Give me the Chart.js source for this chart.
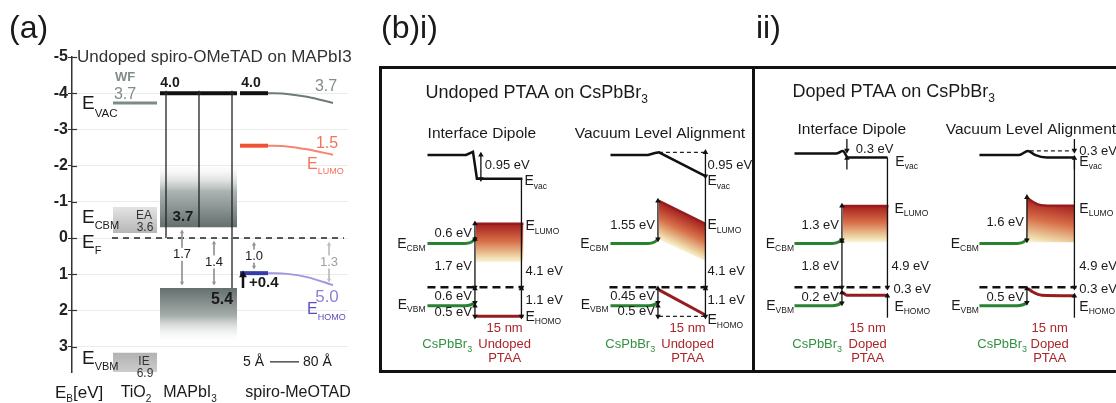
<!DOCTYPE html>
<html>
<head>
<meta charset="utf-8">
<title>Energy level diagrams</title>
<script src="https://cdn.jsdelivr.net/npm/chart.js@4.4.1/dist/chart.umd.min.js"></script>
<style>
  body { margin: 0; background: #fff; width: 1116px; height: 403px; position: relative; overflow: hidden;
         font-family: "Liberation Sans", Arial, sans-serif; }
  #chartA { position: absolute; left: 0; top: 0; }
  #chartB { position: absolute; left: 375px; top: 0; }
  .plab { position: absolute; top: 11px; font-size: 32px; line-height: 1; color: #1a1a1a; }
</style>
</head>
<body>
<canvas id="chartA" width="375" height="403"></canvas>
<canvas id="chartB" width="741" height="403"></canvas>
<div class="plab" style="left:9px">(a)</div>
<div class="plab" style="left:381px">(b)i)</div>
<div class="plab" style="left:756px">ii)</div>
<script>
const FONT = '"Liberation Sans", Arial, sans-serif';

// ---------- (a) x = schematic position, y = E - E_F (eV) ----------
const aTickVals = [-5, -4.5, -4, -3.5, -3, -2.5, -2, -1.5, -1, -0.5, 0, 0.5, 1, 1.5, 2, 2.5, 3, 3.5];
const tio2Wf = [[4.1, -3.73], [8.5, -3.73]];
const tio2EaBox = [4.1, 8.5, -0.86, -0.14];
const tio2IeBox = [4.1, 8.5, 3.17, 3.92];
const mapiVac = [[8.8, -4.0], [16.5, -4.0]];
const mapiCbBox = [8.8, 16.5, -2.1, -0.3];
const mapiVbBox = [8.8, 16.5, 1.38, 2.9];
const mapiDrops = [[9.4, -4.0, 0], [12.7, -4.0, -0.3], [16.0, -4.0, 1.38]];
const spiroVac = [[16.8, -4.0], [19.6, -4.0]];
const spiroVacBend = [[19.6, -4.0], [21.5, -3.98], [23.5, -3.9], [26.1, -3.73]];
const spiroLumo = [[16.8, -2.55], [19.6, -2.55]];
const spiroLumoBend = [[19.6, -2.55], [21.5, -2.53], [23.5, -2.45], [26.1, -2.3]];
const spiroHomo = [[16.8, 0.97], [19.6, 0.97]];
const spiroHomoBend = [[19.6, 0.97], [21.5, 0.99], [23.5, 1.08], [26.1, 1.3]];
const fermiA = [[4.0, 0], [27.2, 0]];
const gapBars = [[11.0, -0.17, 1.24], [14.2, 0.14, 1.24], [18.2, 0.17, 0.8], [25.7, 0.17, 1.16]];
const gapText = ['1.7', '1.4', '1.0', '1.3'];
const gapTextY = [0.45, 0.66, 0.5, 0.66];
const shiftArrow = [17.1, 1.38, 1.02];
const lengthBar = [[19.8, 3.42], [22.7, 3.42]];

// ---------- (b) local x (interface = 0), y = E - E_F (eV) ----------
const bOffsets = [9.7, 28.2, 46.8, 65.5];
const perovCbm = [[-4.8, -1.65], [-1.0, -1.65], [-0.4, -1.7], [0, -1.82]];
const perovVbm = [[-4.8, 0.7], [-1.0, 0.7], [-0.4, 0.66], [0, 0.58]];
const fermiSpan = [[-4.8, 4.9], [-4.9, 5.0], [-4.8, 4.7], [-4.8, 5.0]];
// i) undoped PTAA
const uVacDipole = [[-4.8, -5.0], [-0.9, -5.0], [-0.2, -5.12], [0.2, -4.1], [4.8, -4.1]];
const uVacAlign = [[-4.8, -5.0], [-1.0, -5.0], [-0.3, -5.07], [0.1, -5.1], [4.8, -4.2]];
const uLumoDipole = [[0.1, -2.4], [4.9, -2.4]];
const uLumoDipoleBase = [[0.1, -0.95], [4.9, -0.95]];
const uLumoAlign = [[0.1, -3.26], [4.8, -2.4]];
const uLumoAlignBase = [[0.1, -1.8], [4.8, -1.0]];
const uHomoDipole = [[0.1, 1.1], [4.9, 1.1]];
const uHomoAlign = [[0.1, 0.1], [4.8, 1.05]];
const uAlignDashes = [[[0.1, -5.1], [4.8, -5.1]], [[0.1, 1.1], [4.8, 1.1]]];
// ii) doped PTAA
const dVacDipole = [[-4.8, -5.05], [-0.6, -5.05], [0.1, -5.15], [0.6, -4.9], [4.6, -4.9]];
const dVacAlign = [[-4.8, -5.0], [-0.8, -5.0], [0.1, -5.15], [0.8, -5.0], [2.0, -4.9], [4.8, -4.9]];
const dLumoDipole = [[0.1, -3.07], [4.7, -3.07]];
const dLumoDipoleBase = [[0.1, -1.7], [4.7, -1.7]];
const dLumoAlign = [[0, -3.4], [0.4, -3.28], [1.2, -3.12], [2.5, -3.08], [4.8, -3.08]];
const dLumoAlignBase = [[0, -1.7], [4.8, -1.7]];
const dHomoDipole = [[0.1, 0.2], [0.5, 0.3], [4.6, 0.3]];
const dHomoAlign = [[0.1, 0.05], [0.6, 0.18], [1.5, 0.3], [4.8, 0.32]];
const dAlignDashes = [[[0.3, -5.15], [4.6, -5.15]]];
// arrows: [x, from, to, heads]
const uArrowsDipole = [[0.6, -5.0, -4.1, 'both'], [0, -2.4, -1.82, 'both'], [0, -1.82, 0, 'both'],
  [0, 0.05, 0.58, 'both'], [0, 0.7, 1.1, 'both'], [4.7, -4.1, 0, 'end'], [4.7, 0.05, 1.1, 'both']];
const uArrowsAlign = [[4.8, -5.1, -4.2, 'both'], [4.8, -4.2, 0, 'end'], [4.8, 0.05, 1.1, 'both'],
  [0, -3.26, -1.82, 'both'], [0, 0.05, 0.58, 'both'], [0, 0.7, 1.1, 'both']];
const dArrowsDipole = [[0.5, -5.6, -5.17, 'end'], [0.5, -4.45, -4.88, 'end'], [4.6, -4.9, 0, 'end'],
  [0, -3.07, -1.78, 'both'], [0, -1.74, 0, 'both'], [0, 0.2, 0.6, 'both'], [4.6, 1.15, 0.33, 'end']];
const dArrowsAlign = [[4.8, -5.6, -5.17, 'end'], [4.8, -4.45, -4.88, 'end'], [4.8, -4.9, 0, 'end'],
  [0, -3.4, -1.78, 'both'], [0, 0.05, 0.58, 'both'], [4.8, 1.15, 0.33, 'end']];

const GREEN = 'rgb(40,130,50)';
const RED = 'rgb(150,28,32)';
const RED_TXT = 'rgb(170,38,42)';
const GREEN_TXT = 'rgb(50,145,65)';
const LUMO_STOPS = [[0, 'rgb(165,32,30)'], [0.45, 'rgb(215,110,72)'], [0.85, 'rgb(238,214,165)'], [1, 'rgba(248,238,200,0.7)']];

// helpers
const sh = (pts, dx) => pts.map(([x, y]) => ({ x: x + (dx || 0), y }));

function seg(data, color, width, extra) {
  return Object.assign({ data, borderColor: color, borderWidth: width, pointRadius: 0,
    fill: false, tension: 0, clip: false, order: 1 }, extra || {});
}

function arrowSet(x, y0, y1, heads, color, width, r) {
  const down = y0 < y1;
  return seg([{ x, y: y0 }, { x, y: y1 }], color, width, {
    pointStyle: 'triangle',
    pointRadius: [heads === 'end' ? 0 : r, heads === 'start' ? 0 : r],
    pointRotation: [down ? 0 : 180, down ? 180 : 0],
    pointBackgroundColor: color, pointBorderColor: color, pointBorderWidth: 0,
    order: 0
  });
}

function vGrad(chart, y0, y1, stops) {
  const { ctx, chartArea, scales } = chart;
  if (!chartArea) return 'rgba(0,0,0,0)';
  const g = ctx.createLinearGradient(0, scales.y.getPixelForValue(y0), 0, scales.y.getPixelForValue(y1));
  stops.forEach(([o, c]) => g.addColorStop(o, c));
  return g;
}

// gradient perpendicular to the top edge of a band
function bandGrad(chart, top, bottom, stops) {
  const { ctx, chartArea, scales } = chart;
  if (!chartArea) return 'rgba(0,0,0,0)';
  const px = p => [scales.x.getPixelForValue(p.x), scales.y.getPixelForValue(p.y)];
  const [ax, ay] = px(top[0]), [bx, by] = px(top[top.length - 1]), [cx, cy] = px(bottom[0]);
  let dx = bx - ax, dy = by - ay;
  const len = Math.hypot(dx, dy);
  dx /= len; dy /= len;
  const nx = -dy, ny = dx;
  const d = (cx - ax) * nx + (cy - ay) * ny;
  const g = ctx.createLinearGradient(ax, ay, ax + nx * d, ay + ny * d);
  stops.forEach(([o, c]) => g.addColorStop(o, c));
  return g;
}

function box(b, stops) {
  const [x0, x1, top, bottom] = b;
  return seg([{ x: x0, y: top }, { x: x1, y: top }], 'rgba(0,0,0,0)', 0, {
    fill: { value: bottom }, order: 5,
    backgroundColor: c => vGrad(c.chart, top, bottom, stops)
  });
}

function drawLabel(ctx, px, py, it) {
  const size = it.size || 13;
  const weight = it.bold ? 'bold ' : '';
  const main = weight + size + 'px ' + FONT;
  const subFont = weight + (it.subSize || Math.round(size * 0.62)) + 'px ' + FONT;
  ctx.font = main;
  const w1 = ctx.measureText(it.t).width;
  let w2 = 0, w3 = 0;
  if (it.sub) { ctx.font = subFont; w2 = ctx.measureText(it.sub).width; }
  if (it.post) { ctx.font = main; w3 = ctx.measureText(it.post).width; }
  const total = w1 + w2 + w3;
  let x0 = px;
  if (it.align === 'center') x0 = px - total / 2;
  else if (it.align === 'right') x0 = px - total;
  if (it.bg) {
    ctx.fillStyle = '#fff';
    ctx.fillRect(x0 - 1, py - size * 0.5, total + 2, size);
  }
  ctx.fillStyle = it.color || '#1a1a1a';
  ctx.textBaseline = 'middle';
  ctx.textAlign = 'left';
  ctx.font = main;
  ctx.fillText(it.t, x0, py);
  if (it.sub) { ctx.font = subFont; ctx.fillText(it.sub, x0 + w1, py + (it.subDy || size * 0.35)); }
  if (it.post) { ctx.font = main; ctx.fillText(it.post, x0 + w1 + w2, py); }
}

function makeTextPlugin(id, items) {
  return {
    id,
    afterDatasetsDraw(chart) {
      const { ctx, scales: { x, y } } = chart;
      ctx.save();
      items.forEach(it => drawLabel(ctx, x.getPixelForValue(it.x), y.getPixelForValue(it.y), it));
      ctx.restore();
    }
  };
}

// ---------- panel (a) ----------
const aSets = [];
aSets.push(box(tio2EaBox, [[0, 'rgb(228,228,228)'], [1, 'rgb(182,182,182)']]));
aSets.push(box(tio2IeBox, [[0, 'rgb(178,178,178)'], [1, 'rgb(215,215,215)']]));
aSets.push(box(mapiCbBox, [[0, 'rgba(255,255,255,0)'], [0.45, 'rgb(172,180,178)'], [1, 'rgb(100,112,110)']]));
aSets.push(box(mapiVbBox, [[0, 'rgb(100,112,110)'], [0.5, 'rgb(165,172,170)'], [1, 'rgba(255,255,255,0)']]));
aSets.push(seg(sh(tio2Wf), 'rgb(125,138,138)', 3));
aSets.push(seg(sh(mapiVac), '#111', 4));
mapiDrops.forEach(([x, y0, y1]) => aSets.push(arrowSet(x, y0, y1, 'start', '#222', 1.3, 3)));
aSets.push(seg(sh(spiroVac), '#111', 4));
aSets.push(seg(sh(spiroVacBend), 'rgb(110,122,122)', 2, { cubicInterpolationMode: 'monotone' }));
aSets.push(seg(sh(spiroLumo), 'rgb(238,82,52)', 4));
aSets.push(seg(sh(spiroLumoBend), 'rgb(245,132,112)', 2, { cubicInterpolationMode: 'monotone' }));
aSets.push(seg(sh(spiroHomo), 'rgb(52,60,170)', 4));
aSets.push(seg(sh(spiroHomoBend), 'rgb(160,150,225)', 2, { cubicInterpolationMode: 'monotone' }));
aSets.push(seg(sh(fermiA), '#222', 1.5, { borderDash: [6, 5] }));
gapBars.forEach(([x, y0, y1], i) =>
  aSets.push(arrowSet(x, y0, y1, 'both', i === 3 ? 'rgb(190,190,190)' : 'rgb(150,150,150)', 1, 2.5)));
aSets.push(arrowSet(shiftArrow[0], shiftArrow[1], shiftArrow[2], 'end', '#111', 2.5, 4.5));
aSets.push(seg(sh(lengthBar), '#222', 1.2));

const GRAY_TXT = 'rgb(128,140,140)';
const E_A = (sub, x, y, color, size) => ({ t: 'E', sub, x, y, size: size || 19, subSize: size ? 9 : 11, subDy: size ? 7 : 8, color });
const aLabels = [
  { t: 'Undoped spiro-OMeTAD on MAPbI3', x: 0.5, y: -5.0, size: 17, color: '#333' },
  { t: 'WF', x: 5.3, y: -4.44, size: 13, bold: true, align: 'center', color: GRAY_TXT },
  { t: '3.7', x: 5.3, y: -3.97, size: 16, align: 'center', color: GRAY_TXT },
  { t: 'E', sub: 'VAC', x: 1.0, y: -3.72, size: 19, subSize: 11.5, subDy: 10 },
  { t: '4.0', x: 9.8, y: -4.28, size: 14, bold: true, align: 'center' },
  { t: '4.0', x: 17.9, y: -4.28, size: 14, bold: true, align: 'center' },
  { t: '3.7', x: 25.4, y: -4.17, size: 16, align: 'center', color: GRAY_TXT },
  { t: '1.5', x: 25.5, y: -2.62, size: 16, align: 'center', color: 'rgb(245,115,90)' },
  E_A('LUMO', 23.5, -2.04, 'rgb(245,115,90)', 16),
  E_A('CBM', 1.0, -0.55),
  { t: 'EA', x: 7.2, y: -0.63, size: 12, align: 'center', color: '#333' },
  { t: '3.6', x: 7.3, y: -0.28, size: 12, align: 'center', color: '#333' },
  { t: '3.7', x: 11.1, y: -0.58, size: 15, bold: true, align: 'center' },
  E_A('F', 1.0, 0.14),
  { t: '+0.4', x: 17.7, y: 1.24, size: 15, bold: true },
  { t: '5.4', x: 15.0, y: 1.71, size: 16, bold: true, align: 'center' },
  { t: '5.0', x: 25.5, y: 1.63, size: 17, align: 'center', color: 'rgb(140,130,212)' },
  E_A('HOMO', 23.5, 1.99, 'rgb(90,80,190)', 16),
  E_A('VBM', 1.0, 3.34),
  { t: 'IE', x: 7.2, y: 3.42, size: 12, align: 'center', color: '#333' },
  { t: '6.9', x: 7.3, y: 3.75, size: 12, align: 'center', color: '#333' },
  { t: '5 Å', x: 17.1, y: 3.42, size: 14 },
  { t: '80 Å', x: 23.1, y: 3.42, size: 14 },
  { t: 'E', sub: 'B', post: '[eV]', x: -1.7, y: 4.28, size: 17, subSize: 10, subDy: 6 },
  { t: 'TiO', sub: '2', x: 6.4, y: 4.28, size: 16, subSize: 10, subDy: 6, align: 'center' },
  { t: 'MAPbI', sub: '3', x: 11.8, y: 4.28, size: 16, subSize: 10, subDy: 6, align: 'center' },
  { t: 'spiro-MeOTAD', x: 22.6, y: 4.28, size: 16, align: 'center' }
];
gapText.forEach((t, i) => aLabels.push({ t, x: gapBars[i][0], y: gapTextY[i], size: 13, align: 'center', bg: true,
  color: i === 3 ? 'rgb(160,160,160)' : '#222' }));

// small tick marks on the inner side of the energy axis
const innerTicks = {
  id: 'innerTicks',
  afterDraw(chart) {
    const { ctx, chartArea, scales: { y } } = chart;
    ctx.save();
    ctx.strokeStyle = '#333';
    ctx.lineWidth = 1.2;
    y.ticks.forEach(t => {
      const py = Math.round(y.getPixelForValue(t.value)) + 0.5;
      ctx.beginPath();
      ctx.moveTo(chartArea.left, py);
      ctx.lineTo(chartArea.left + 5, py);
      ctx.stroke();
    });
    ctx.restore();
  }
};

new Chart(document.getElementById('chartA'), {
  type: 'line',
  data: { datasets: aSets },
  options: {
    responsive: false, animation: false, events: [],
    layout: { padding: { top: 57, bottom: 31, left: 0, right: 27 } },
    plugins: { legend: { display: false }, tooltip: { enabled: false } },
    scales: {
      x: { type: 'linear', display: false, min: 0, max: 27.6 },
      y: {
        type: 'linear', reverse: true, min: -5, max: 3.7,
        afterFit: s => { s.width = 72; },
        afterBuildTicks: s => { s.ticks = aTickVals.map(v => ({ value: v })); },
        ticks: {
          callback: v => Number.isInteger(v) ? String(v) : '',
          font: { family: FONT, size: 16, weight: 'bold' }, color: '#222', padding: 0
        },
        grid: {
          color: c => (Number.isInteger(c.tick.value) && c.tick.value !== -5) ? 'rgba(0,0,0,0.08)' : 'rgba(0,0,0,0)',
          tickColor: '#333', tickLength: 4, lineWidth: 1
        },
        border: { color: '#333', width: 1.5 }
      }
    }
  },
  plugins: [makeTextPlugin('labelsA', aLabels), innerTicks]
});

// ---------- panel (b) ----------
const bSets = [];
const bLabels = [];

const val = (t, x, y, align) => ({ t, x, y, align: align || 'left', size: 13 });
const eLab = (sub, x, y, align) => ({ t: 'E', sub, x, y, align: align || 'left', size: 14, subSize: 8.5, subDy: 5 });
const redL = (t, x, y) => ({ t, x, y, align: 'center', size: 13, color: RED_TXT });
const greenL = (x, y) => ({ t: 'CsPbBr', sub: '3', x, y, align: 'center', size: 13, subSize: 9, subDy: 5, color: GREEN_TXT });
const head = (t, x, y, align) => ({ t, x, y, align: align || 'center', size: 15.5 });

function addDiagram(k, d) {
  const off = bOffsets[k];
  const mono = { cubicInterpolationMode: 'monotone' };
  const top = sh(d.lumo, off), base = sh(d.lumoBase, off);
  bSets.push(seg(top, RED, 2.5, Object.assign({ fill: '+1', order: 5,
    backgroundColor: c => bandGrad(c.chart, top, base, LUMO_STOPS) }, mono)));
  bSets.push(seg(base, 'rgba(0,0,0,0)', 0, { order: 5 }));
  bSets.push(seg(sh(d.vac, off), '#111', 2.5, d.curved ? mono : {}));
  bSets.push(seg(sh(d.homo, off), RED, 3, d.curved ? mono : {}));
  bSets.push(seg(sh(perovCbm, off), GREEN, 3, mono));
  bSets.push(seg(sh(perovVbm, off), GREEN, 3, mono));
  const [f0, f1] = fermiSpan[k];
  bSets.push(seg(sh([[f0, 0], [f1, 0]], off), '#111', 2.5, { borderDash: [8, 5] }));
  (d.dashes || []).forEach(p => bSets.push(seg(sh(p, off), '#222', 1.3, { borderDash: [4, 3] })));
  d.arrows.forEach(([x, y0, y1, h]) => bSets.push(arrowSet(x + off, y0, y1, h, '#111', 1.3, 3.2)));
  d.labels.forEach(l => bLabels.push(Object.assign({}, l, { x: l.x + off })));
}

addDiagram(0, {
  vac: uVacDipole, lumo: uLumoDipole, lumoBase: uLumoDipoleBase, homo: uHomoDipole, arrows: uArrowsDipole,
  labels: [
    val('0.95 eV', 1.0, -4.59), eLab('vac', 5.0, -4.0), eLab('LUMO', 5.1, -2.3),
    val('0.6 eV', -0.3, -2.05, 'right'), val('1.7 eV', -0.3, -0.78, 'right'), val('4.1 eV', 5.1, -0.6),
    val('0.6 eV', -0.3, 0.35, 'right'), val('0.5 eV', -0.3, 0.96, 'right'), val('1.1 eV', 5.1, 0.48),
    eLab('HOMO', 5.1, 1.12), eLab('CBM', -5.0, -1.63, 'right'), eLab('VBM', -5.0, 0.67, 'right'),
    redL('15 nm', 3.0, 1.56), redL('Undoped', 3.0, 2.15), redL('PTAA', 3.0, 2.7), greenL(-2.8, 2.15),
    head('Interface Dipole', 0.7, -5.81)
  ]
});
addDiagram(1, {
  vac: uVacAlign, lumo: uLumoAlign, lumoBase: uLumoAlignBase, homo: uHomoAlign, arrows: uArrowsAlign,
  dashes: uAlignDashes,
  labels: [
    val('0.95 eV', 5.0, -4.6), eLab('vac', 5.0, -4.0), eLab('LUMO', 5.0, -2.33),
    val('1.55 eV', -0.3, -2.33, 'right'), val('4.1 eV', 5.0, -0.6),
    val('0.45 eV', -0.3, 0.33, 'right'), val('0.5 eV', -0.3, 0.93, 'right'), val('1.1 eV', 5.0, 0.48),
    eLab('HOMO', 5.0, 1.26), eLab('CBM', -5.0, -1.63, 'right'), eLab('VBM', -5.0, 0.67, 'right'),
    redL('15 nm', 3.0, 1.56), redL('Undoped', 3.0, 2.15), redL('PTAA', 3.0, 2.7), greenL(-2.8, 2.15),
    head('Vacuum Level Alignment', 0.2, -5.81)
  ]
});
addDiagram(2, {
  vac: dVacDipole, lumo: dLumoDipole, lumoBase: dLumoDipoleBase, homo: dHomoDipole, arrows: dArrowsDipole,
  curved: true,
  labels: [
    val('0.3 eV', 1.4, -5.22), eLab('vac', 5.4, -4.74), eLab('LUMO', 5.3, -2.96),
    val('1.3 eV', -0.3, -2.33, 'right'), val('1.8 eV', -0.3, -0.78, 'right'), val('4.9 eV', 5.0, -0.78),
    val('0.3 eV', 5.2, 0.1), val('0.2 eV', -0.3, 0.37, 'right'),
    eLab('HOMO', 5.3, 0.74), eLab('CBM', -4.85, -1.63, 'right'), eLab('VBM', -4.85, 0.7, 'right'),
    redL('15 nm', 2.6, 1.56), redL('Doped', 2.6, 2.15), redL('PTAA', 2.6, 2.7), greenL(-2.5, 2.15),
    head('Interface Dipole', 1.0, -5.96)
  ]
});
addDiagram(3, {
  vac: dVacAlign, lumo: dLumoAlign, lumoBase: dLumoAlignBase, homo: dHomoAlign, arrows: dArrowsAlign,
  dashes: dAlignDashes, curved: true,
  labels: [
    val('0.3 eV', 5.3, -5.15), eLab('vac', 5.3, -4.74), eLab('LUMO', 5.3, -2.96),
    val('1.6 eV', -0.3, -2.44, 'right'), val('4.9 eV', 5.3, -0.78),
    val('0.3 eV', 5.3, 0.1), val('0.5 eV', -0.3, 0.37, 'right'),
    eLab('HOMO', 5.3, 0.74), eLab('CBM', -4.85, -1.63, 'right'), eLab('VBM', -4.85, 0.7, 'right'),
    redL('15 nm', 2.3, 1.56), redL('Doped', 2.3, 2.15), redL('PTAA', 2.3, 2.7), greenL(-2.5, 2.15),
    head('Vacuum Level Alignment', -8.2, -5.96, 'left')
  ]
});
bLabels.push({ t: 'Undoped PTAA on CsPbBr', sub: '3', x: 4.7, y: -7.33, size: 18, subSize: 12, subDy: 6 });
bLabels.push({ t: 'Doped PTAA on CsPbBr', sub: '3', x: 41.8, y: -7.37, size: 18, subSize: 12, subDy: 6 });

// outer frame of panel (b)
const frame = {
  id: 'frame',
  beforeDatasetsDraw(chart) {
    const { ctx } = chart;
    ctx.save();
    ctx.strokeStyle = '#111';
    ctx.lineWidth = 3;
    ctx.strokeRect(5.5, 67.5, 800, 304);
    ctx.beginPath();
    ctx.moveTo(378.5, 67.5);
    ctx.lineTo(378.5, 371.5);
    ctx.stroke();
    ctx.restore();
  }
};

new Chart(document.getElementById('chartB'), {
  type: 'line',
  data: { datasets: bSets },
  options: {
    responsive: false, animation: false, events: [],
    layout: { padding: 0 },
    plugins: { legend: { display: false }, tooltip: { enabled: false } },
    scales: {
      x: { type: 'linear', display: false, min: 0, max: 74.1 },
      y: { type: 'linear', display: false, reverse: true, min: -10.7037, max: 4.2222 }
    }
  },
  plugins: [frame, makeTextPlugin('labelsB', bLabels)]
});
</script>
</body>
</html>
